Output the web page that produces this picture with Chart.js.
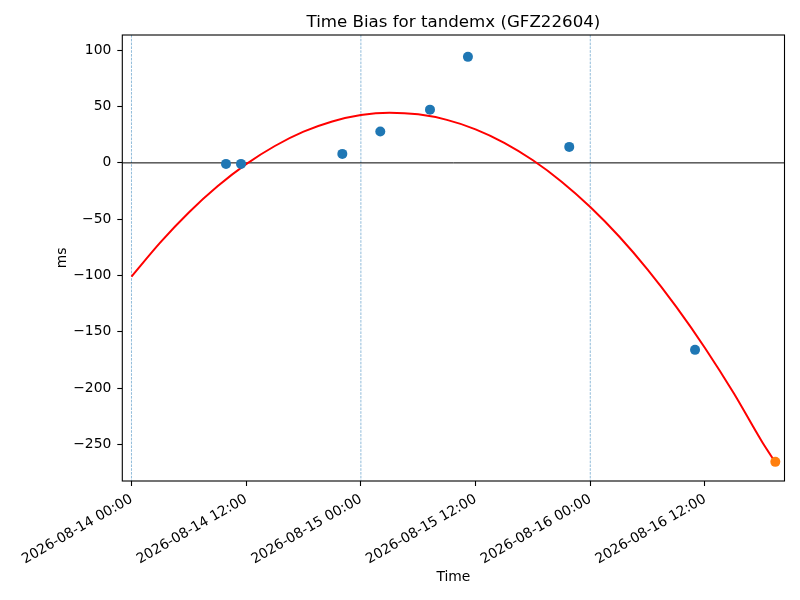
<!DOCTYPE html>
<html lang="en">
  <head>
    <meta charset="utf-8" />
    <title>Time Bias for tandemx (GFZ22604)</title>
    <style>
      * {
        margin: 0;
        padding: 0;
      }
      body {
        background: white;
      }
    </style>
  </head>
  <body>
    <canvas id="myChart" width="800" height="600"></canvas>

    <script src="https://cdn.jsdelivr.net/npm/chart.js"></script>

    <script>
      // hours since 2026-08-14 00:00
      const xTickHours = [0, 12, 24, 36, 48, 60];
      const xTickLabels = [
        "2026-08-14 00:00",
        "2026-08-14 12:00",
        "2026-08-15 00:00",
        "2026-08-15 12:00",
        "2026-08-16 00:00",
        "2026-08-16 12:00",
      ];
      const dayLineHours = [0, 24, 48];
      const yTicks = [-250, -200, -150, -100, -50, 0, 50, 100];

      // measured time bias (ms)
      const obsHours = [9.89, 11.46, 22.06, 26.03, 31.23, 35.2, 45.8, 58.96];
      const obsMs = [-0.9, -0.9, 8.0, 27.8, 47.3, 94.2, 14.2, -166.1];

      // latest point
      const lastHours = [67.36];
      const lastMs = [-265.6];

      // fitted curve
      const fitHours = [
        0, 3, 6, 9, 12, 15, 18, 21, 24, 27, 30, 33, 36, 39, 42, 45, 48, 51, 54,
        57, 60, 63, 66, 67.36,
      ];
      const fitMs = [
        -101, -70.8, -44.0, -20.8, -1.1, 15.0, 27.7, 36.8, 42.5, 44.6, 43.1,
        38.2, 29.8, 17.8, 2.3, -16.7, -39.2, -65.2, -94.8, -127.9, -164.4,
        -204.5, -248.2, -266,
      ];

      const toPoints = (xs, ys) => xs.map((x, i) => ({ x: x, y: ys[i] }));

      const font = { family: "DejaVu Sans", size: 13.89 };

      const refLines = {
        id: "refLines",
        beforeDatasetsDraw(chart) {
          const {
            ctx,
            chartArea: { left, right, top, bottom },
            scales: { x, y },
          } = chart;
          ctx.save();
          // dashed day markers
          ctx.strokeStyle = "rgba(31, 119, 180, 0.7)";
          ctx.lineWidth = 0.7;
          ctx.setLineDash([2.6, 1.2]);
          dayLineHours.forEach((h) => {
            const px = x.getPixelForValue(h);
            ctx.beginPath();
            ctx.moveTo(px, top);
            ctx.lineTo(px, bottom);
            ctx.stroke();
          });
          // zero line
          ctx.setLineDash([]);
          ctx.strokeStyle = "black";
          ctx.lineWidth = 1;
          const py = y.getPixelForValue(0);
          ctx.beginPath();
          ctx.moveTo(left, py);
          ctx.lineTo(right, py);
          ctx.stroke();
          ctx.restore();
        },
        afterDatasetsDraw(chart) {
          const {
            ctx,
            chartArea: { left, right, top, bottom },
          } = chart;
          ctx.save();
          ctx.strokeStyle = "black";
          ctx.lineWidth = 1.1;
          ctx.strokeRect(left, top, right - left, bottom - top);
          ctx.restore();
        },
      };

      const config = {
        type: "scatter",
        data: {
          datasets: [
            {
              label: "bias",
              data: toPoints(obsHours, obsMs),
              backgroundColor: "#1f77b4",
              borderWidth: 0,
              pointRadius: 5,
              order: 0,
            },
            {
              label: "latest",
              data: toPoints(lastHours, lastMs),
              backgroundColor: "#ff7f0e",
              borderWidth: 0,
              pointRadius: 5,
              order: 0,
            },
            {
              label: "fit",
              data: toPoints(fitHours, fitMs),
              showLine: true,
              borderColor: "red",
              borderWidth: 2,
              pointRadius: 0,
              cubicInterpolationMode: "monotone",
              order: 2,
            },
          ],
        },
        options: {
          responsive: false,
          animation: false,
          layout: { padding: { left: 0, right: 15.5, top: 0, bottom: 0 } },
          plugins: {
            legend: { display: false },
            tooltip: { enabled: false },
            title: {
              display: true,
              text: "Time Bias for tandemx (GFZ22604)",
              fullSize: false,
              color: "black",
              font: { family: "DejaVu Sans", size: 16.67, weight: "normal" },
              padding: { top: 13, bottom: 2 },
            },
          },
          scales: {
            x: {
              type: "linear",
              position: "bottom",
              min: -0.96,
              max: 68.32,
              afterBuildTicks: (s) => {
                s.ticks = xTickHours.map((v) => ({ value: v }));
              },
              afterFit: (s) => {
                s.height = 119;
              },
              ticks: {
                autoSkip: false,
                maxRotation: 30,
                minRotation: 30,
                padding: 5,
                color: "black",
                font: font,
                callback: (v) => xTickLabels[xTickHours.indexOf(v)],
              },
              grid: {
                drawOnChartArea: false,
                drawTicks: true,
                tickLength: 5,
                tickColor: "black",
                tickWidth: 1.1,
              },
              border: { display: false },
              title: {
                display: true,
                text: "Time",
                color: "black",
                font: font,
                padding: { top: 0, bottom: 14 },
              },
            },
            y: {
              min: -282.6,
              max: 113.6,
              afterBuildTicks: (s) => {
                s.ticks = yTicks.map((v) => ({ value: v }));
              },
              afterFit: (s) => {
                s.width = 122.3;
              },
              ticks: {
                padding: 6,
                color: "black",
                font: font,
                callback: (v) => (v < 0 ? "\u2212" + Math.abs(v) : String(v)),
              },
              grid: {
                drawOnChartArea: false,
                drawTicks: true,
                tickLength: 5,
                tickColor: "black",
                tickWidth: 1.1,
              },
              border: { display: false },
              title: {
                display: true,
                text: "ms",
                color: "black",
                font: font,
                padding: { top: 54, bottom: 0 },
              },
            },
          },
        },
        plugins: [refLines],
      };

      const myChart = new Chart(document.getElementById("myChart"), config);
    </script>
  </body>
</html>
